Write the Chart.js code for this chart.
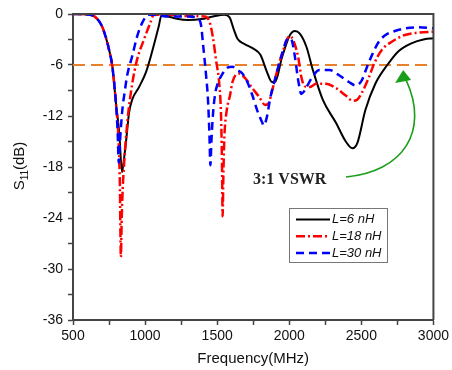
<!DOCTYPE html>
<html lang="en">

<head>
    <meta charset="UTF-8">
    <title>S11 vs Frequency</title>
    <script src="https://cdn.jsdelivr.net/npm/chart.js"></script>
    <style>
        body {
            margin: 0;
            background-color: #ffffff;
        }

        #wrap {
            width: 452px;
            height: 370px;
        }
    </style>
</head>

<body>

    <div id="wrap">
        <canvas id="s11Chart" width="452" height="370"></canvas>
    </div>

    <script>
        // values
        const freqL6 = [500, 600, 650, 700, 727, 750, 773, 798, 821, 840, 848, 869, 889, 910, 958, 1005, 1046, 1094, 1115, 1163,
            1230, 1300, 1390, 1470, 1550, 1586, 1615, 1641, 1686, 1754, 1800, 1845, 1880, 1902, 1948, 2004, 2039, 2073, 2119, 2164,
            2233, 2324, 2392, 2438, 2472, 2528, 2597, 2680, 2756, 2847, 2938, 3000];
        const s11L6 = [0, -0.05, -0.3, -1.4, -2.7, -4.2, -6.2, -10.5, -14, -18.6, -17.8, -14.8, -11.6, -10.1, -8.6, -6.9, -4.6, -1.5, -0.1, -0.3,
            -0.6, -0.7, -0.6, -0.3, -0.1, -0.4, -1.8, -2.9, -3.5, -4.1, -4.8, -6.8, -8.0, -8.0, -5.2, -2.5, -2.0, -2.3, -3.85, -6.6,
            -10.1, -12.8, -15.0, -15.8, -15.2, -11.3, -8.2, -6.0, -4.4, -3.45, -2.98, -2.86];

        const freqL18 = [500, 600, 650, 700, 727, 750, 773, 798, 815, 825, 832, 838, 845, 855, 878, 910, 944, 990, 1035, 1060,
            1163, 1299, 1413, 1447, 1470, 1492, 1516, 1527, 1533, 1538, 1543, 1550, 1565, 1590, 1606, 1650, 1697, 1743, 1789, 1834,
            1857, 1880, 1902, 1948, 2004, 2027, 2061, 2085, 2107, 2141, 2187, 2255, 2323, 2392, 2440, 2470, 2506, 2551, 2590, 2643,
            2711, 2802, 2893, 3000];
        const s11L18 = [0, -0.05, -0.3, -1.4, -2.7, -4.2, -6.2, -10.5, -14.5, -20, -28.6, -24, -20.5, -17.5, -12.5, -8.3, -5.4, -3.1, -1.1, -0.1,
            -0.1, -0.24, -0.3, -0.9, -2.7, -5.4, -8.5, -12, -17, -23.8, -19, -14.5, -11.5, -9.5, -8.0, -7.0, -7.6, -8.7, -9.7, -10.7,
            -10.5, -9.1, -7.6, -4.8, -2.6, -3.06, -5.0, -7.5, -8.5, -8.6, -8.2, -8.2, -8.7, -9.6, -10.2, -10.1, -9.2, -7.5, -5.8, -4.2,
            -3.26, -2.47, -2.2, -2.08];

        const freqL30 = [500, 600, 650, 700, 727, 750, 773, 798, 810, 817, 826, 841, 860, 876, 910, 944, 978, 1024, 1060, 1163,
            1299, 1367, 1390, 1401, 1413, 1424, 1436, 1446, 1453, 1460, 1470, 1485, 1504, 1538, 1572, 1606, 1641, 1675, 1709, 1743,
            1777, 1811, 1823, 1845, 1868, 1902, 1948, 1993, 2016, 2039, 2062, 2084, 2107, 2153, 2210, 2278, 2346, 2414, 2460, 2500,
            2540, 2580, 2620, 2665, 2733, 2802, 2893, 3000];
        const s11L30 = [0, -0.05, -0.3, -1.4, -2.7, -4.2, -6.2, -10.5, -14, -17.5, -15, -11.5, -9, -7.2, -5.0, -2.7, -1.1, -0.1, -0.1, -0.3,
            -0.3, -0.5, -1.5, -3.4, -5.4, -7.4, -10, -14, -17.8, -15, -12, -9.5, -8.2, -7.0, -6.3, -6.2, -6.6, -7.0, -8.0, -9.5,
            -11.3, -12.7, -13.1, -12.1, -9.9, -7.6, -4.8, -2.86, -3.06, -5.0, -7.8, -9.4, -9.0, -7.6, -6.6, -6.6, -7.2, -8.0, -8.4, -7.9,
            -6.2, -4.6, -3.3, -2.5, -2.0, -1.7, -1.57, -1.68];

        const vswrFreq = [500, 3000];
        const vswrLevel = [-6, -6];

        const seriesNames = ['L=6 nH', 'L=18 nH', 'L=30 nH'];
        const annotationText = '3:1 VSWR';

        const xMin = 500, xMax = 3000, xStep = 250;
        const yMin = -36, yMax = 0, yStep = 3;

        function toPoints(xs, ys) {
            return xs.map((x, i) => ({ x: x, y: ys[i] }));
        }

        const axisColor = '#444';
        const sansFont = "Arial, 'Liberation Sans', sans-serif";

        const lineStyles = [
            { color: '#000000', dash: [], width: 2 },
            { color: '#ff0000', dash: [9, 3, 2, 3], width: 2.5 },
            { color: '#0000ff', dash: [8, 5], width: 2.5 }
        ];

        // top/right frame, legend, annotation, arrow and the y title with subscript
        const decorPlugin = {
            id: 'decor',
            afterDraw(chart) {
                const ctx = chart.ctx;
                const a = chart.chartArea;
                const xs = chart.scales.x, ys = chart.scales.y;

                ctx.save();
                ctx.strokeStyle = axisColor;
                ctx.lineWidth = 2;
                ctx.beginPath();
                ctx.moveTo(a.left, a.top);
                ctx.lineTo(a.right, a.top);
                ctx.lineTo(a.right, a.bottom);
                ctx.stroke();

                // legend box
                const lx = 289, ly = 208, lw = 98, lh = 54;
                ctx.fillStyle = '#ffffff';
                ctx.fillRect(lx, ly, lw, lh);
                ctx.strokeStyle = '#777';
                ctx.lineWidth = 1;
                ctx.strokeRect(lx + 0.5, ly + 0.5, lw, lh);
                ctx.font = 'italic 13px ' + sansFont;
                ctx.textBaseline = 'middle';
                ctx.textAlign = 'left';
                seriesNames.forEach((name, i) => {
                    const rowY = ly + 11.5 + i * 16.7;
                    const st = lineStyles[i];
                    ctx.strokeStyle = st.color;
                    ctx.lineWidth = st.width;
                    ctx.setLineDash(st.dash);
                    ctx.beginPath();
                    ctx.moveTo(lx + 7, rowY);
                    ctx.lineTo(lx + 41, rowY);
                    ctx.stroke();
                    ctx.setLineDash([]);
                    ctx.fillStyle = '#111';
                    ctx.fillText(name, lx + 43, rowY);
                });

                // annotation text
                ctx.font = "bold 16px 'Liberation Serif', 'Times New Roman', serif";
                ctx.fillStyle = '#222';
                ctx.textBaseline = 'alphabetic';
                ctx.fillText(annotationText, 253, 184);

                // green arrow pointing at the -6 dB line
                const tipX = xs.getPixelForValue(2790);
                const tipY = ys.getPixelForValue(-6.6);
                ctx.strokeStyle = '#1a9e1a';
                ctx.fillStyle = '#1a9e1a';
                ctx.lineWidth = 1.6;
                ctx.beginPath();
                ctx.moveTo(346, 177);
                ctx.bezierCurveTo(402, 172, 430, 132, tipX + 3, tipY + 10);
                ctx.stroke();
                ctx.beginPath();
                ctx.moveTo(tipX, tipY);
                ctx.lineTo(tipX - 8, tipY + 13);
                ctx.lineTo(tipX + 8, tipY + 10);
                ctx.closePath();
                ctx.fill();

                // y axis title: S11(dB)
                ctx.translate(20, 166);
                ctx.rotate(-Math.PI / 2);
                ctx.fillStyle = '#111';
                ctx.textBaseline = 'middle';
                const big = '15px ' + sansFont, small = '10px ' + sansFont;
                ctx.font = big;
                const wS = ctx.measureText('S').width;
                const wDb = ctx.measureText('(dB)').width;
                ctx.font = small;
                const w11 = ctx.measureText('11').width;
                let px = -(wS + w11 + wDb) / 2;
                ctx.font = big;
                ctx.fillText('S', px, 0);
                px += wS;
                ctx.font = small;
                ctx.fillText('11', px, 5);
                px += w11;
                ctx.font = big;
                ctx.fillText('(dB)', px, 0);
                ctx.restore();
            }
        };

        const datasets = [
            [freqL6, s11L6],
            [freqL18, s11L18],
            [freqL30, s11L30]
        ].map((pair, i) => ({
            label: seriesNames[i],
            data: toPoints(pair[0], pair[1]),
            borderColor: lineStyles[i].color,
            borderWidth: lineStyles[i].width,
            borderDash: lineStyles[i].dash,
            pointRadius: 0,
            fill: false,
            cubicInterpolationMode: 'monotone',
            order: 3 - i
        }));

        datasets.unshift({
            label: '3:1 VSWR',
            data: toPoints(vswrFreq, vswrLevel),
            borderColor: '#e8802c',
            borderWidth: 2,
            borderDash: [12, 6],
            pointRadius: 0,
            fill: false,
            order: 5
        });

        const s11Chart = new Chart(document.getElementById('s11Chart').getContext('2d'), {
            type: 'line',
            data: { datasets: datasets },
            plugins: [decorPlugin],
            options: {
                responsive: false,
                animation: false,
                layout: { padding: { top: 14, right: 13, left: 0, bottom: 0 } },
                plugins: {
                    legend: { display: false },
                    tooltip: { enabled: false }
                },
                scales: {
                    x: {
                        type: 'linear',
                        min: xMin,
                        max: xMax,
                        afterFit(scale) { scale.height = 50; },
                        ticks: {
                            stepSize: xStep,
                            autoSkip: false,
                            maxRotation: 0,
                            color: '#111',
                            padding: 3,
                            font: { family: sansFont, size: 14 },
                            callback: v => (v % 500 === 0 ? String(v) : '')
                        },
                        grid: {
                            drawOnChartArea: false,
                            drawTicks: true,
                            tickLength: 5,
                            tickColor: axisColor,
                            tickWidth: 1.5
                        },
                        border: { display: true, color: axisColor, width: 2 },
                        title: {
                            display: true,
                            text: 'Frequency(MHz)',
                            color: '#111',
                            padding: { top: 0, bottom: 2 },
                            font: { family: sansFont, size: 15 }
                        }
                    },
                    y: {
                        type: 'linear',
                        min: yMin,
                        max: yMax,
                        afterFit(scale) { scale.width = 73; },
                        ticks: {
                            stepSize: yStep,
                            autoSkip: false,
                            color: '#111',
                            padding: 5,
                            font: { family: sansFont, size: 14 },
                            callback: v => (v % 6 === 0 ? String(v) : '')
                        },
                        grid: {
                            drawOnChartArea: false,
                            drawTicks: true,
                            tickLength: 5,
                            tickColor: axisColor,
                            tickWidth: 1.5
                        },
                        border: { display: true, color: axisColor, width: 2 }
                    }
                }
            }
        });
    </script>

</body>

</html>
